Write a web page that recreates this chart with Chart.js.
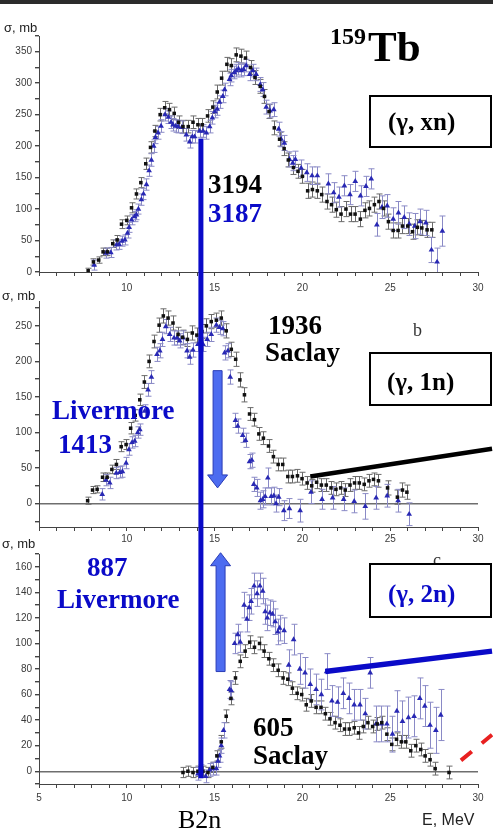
<!DOCTYPE html>
<html>
<head>
<meta charset="utf-8">
<script src="https://cdn.jsdelivr.net/npm/chart.js@4/dist/chart.umd.min.js"></script>
<style>
  body { margin: 0; background: #fff; }
  #page { position: relative; width: 493px; height: 832px; overflow: hidden; background: #fff; }
  #page canvas { position: absolute; left: 0; }
  .bar { position: absolute; left: 0; top: 0; width: 493px; height: 4px; background: #2b2b2b; }
  .t { position: absolute; white-space: nowrap; line-height: 1; }
  .sb { font: bold 27px "Liberation Serif", "Times New Roman", serif; color: #000; }
  .blue { color: #0a0ac8; }
  .ax { font: 13px "Liberation Sans", Arial, sans-serif; color: #222; }
  .box { position: absolute; left: 369px; width: 119px; border: 2px solid #000; background: #fff; }
  .box span { position: absolute; left: 17px; font: bold 25px "Liberation Serif", serif; line-height: 1; white-space: nowrap; }
</style>
</head>
<body>
<div id="page">
  <canvas id="c1" width="493" height="292" style="top:0"></canvas>
  <canvas id="c2" width="493" height="253" style="top:292px"></canvas>
  <canvas id="c3" width="493" height="287" style="top:545px"></canvas>
  <div class="bar"></div>

  <div class="t ax" style="left:4px;top:20px">σ, mb</div>
  <div class="t ax" style="left:2px;top:288px">σ, mb</div>
  <div class="t ax" style="left:2px;top:536px">σ, mb</div>
  <div class="t" style="left:422px;top:811px;font:16px 'Liberation Sans',Arial,sans-serif;color:#222">E, MeV</div>
  <div class="t" style="left:178px;top:805px;font:26px 'Liberation Serif',serif;color:#000">B2n</div>

  <div class="t" style="left:330px;top:23px;font:bold 24px 'Liberation Serif',serif">159</div>
  <div class="t" style="left:368px;top:22px;font:bold 43px 'Liberation Serif',serif">Tb</div>

  <div class="t sb" style="left:208px;top:169px">3194</div>
  <div class="t sb blue" style="left:208px;top:198px">3187</div>

  <div class="t sb" style="left:268px;top:310px">1936</div>
  <div class="t sb" style="left:265px;top:337px">Saclay</div>
  <div class="t" style="left:413px;top:320px;font:18px 'Liberation Serif',serif;color:#333">b</div>
  <div class="t sb blue" style="left:52px;top:395px">Livermore</div>
  <div class="t sb blue" style="left:58px;top:429px">1413</div>

  <div class="t" style="left:433px;top:550px;font:18px 'Liberation Serif',serif;color:#333">c</div>
  <div class="t sb blue" style="left:87px;top:552px">887</div>
  <div class="t sb blue" style="left:57px;top:584px">Livermore</div>
  <div class="t sb" style="left:253px;top:712px">605</div>
  <div class="t sb" style="left:253px;top:740px">Saclay</div>

  <div class="box" style="top:95px;height:49px"><span style="top:12px">(γ, xn)</span></div>
  <div class="box" style="top:352px;height:50px"><span style="top:15px;left:16px">(γ, 1n)</span></div>
  <div class="box" style="top:563px;height:51px"><span class="blue" style="top:16px">(γ, 2n)</span></div>
</div>

<script>
// (γ,xn) — Saclay
const xnSaclayE = [7.8,8.1,8.4,8.65,8.9,9.2,9.45,9.7,10.0,10.27,10.55,10.8,11.08,11.35,11.6,11.9,12.16,12.43,12.7,12.95,
  13.2,13.5,13.77,14.05,14.3,14.6,14.9,15.15,15.4,15.7,15.95,16.23,16.5,16.76,17.05,17.3,17.6,17.84,18.1,18.4,
  18.7,18.96,19.2,19.49,19.75,20.0,20.3,20.57,20.85,21.1,21.4,21.66,21.93,22.2,22.48,22.74,23.0,23.3,23.56,23.82,
  24.1,24.36,24.62,24.9,25.17,25.45,25.7,26.0,26.27,26.55,26.8,27.1,27.37];
const xnSaclayS = [2,16,19,32,32,45,51,76,82,102,124,142,172,198,224,250,261,258,252,238,
  231,231,238,234,234,248,262,286,308,330,328,345,343,340,325,309,295,279,255,229,
  211,196,178,166,160,152,129,131,129,123,112,107,99,92,100,92,92,84,98,101,
  107,112,101,80,66,66,73,73,64,71,70,67,67];
const xnSaclayErr = [4,5,5,6,6,6,7,7,7,8,8,8,9,9,9,10,10,10,10,10,
  10,10,10,10,10,10,10,11,11,11,11,11,11,11,11,11,11,11,11,11,
  11,11,11,11,11,11,12,12,12,12,12,12,12,12,12,12,12,12,12,12,
  12,12,12,12,12,12,12,12,12,12,12,12,12];

// (γ,xn) — Livermore
const xnLivE = [8.14,8.81,9.09,9.41,9.56,9.73,9.89,10.04,10.13,10.27,10.44,10.55,10.66,10.83,10.95,11.12,11.27,11.4,11.53,11.63,
  11.78,11.95,12.18,12.37,12.52,12.63,12.78,12.92,13.13,13.39,13.58,13.73,13.86,14.15,14.34,14.53,14.72,14.87,15.02,15.15,
  15.28,15.47,15.57,15.85,15.95,16.12,16.23,16.36,16.52,16.65,16.8,17.0,17.18,17.37,17.6,17.74,17.94,18.16,18.37,18.65,
  18.79,18.97,19.26,19.45,19.6,19.93,20.25,20.55,20.85,21.48,21.78,22.08,22.39,22.71,23.01,23.31,23.62,23.92,24.24,24.53,
  24.83,25.17,25.47,25.8,26.08,26.4,26.7,27.03,27.35,27.67,27.97];
const xnLivS = [11,30,31,43,44,49,51,62,71,83,88,91,100,115,124,139,161,178,200,214,
  221,232,250,246,238,234,232,231,230,218,207,215,215,224,224,221,231,245,255,259,
  270,279,290,306,312,317,320,323,320,322,328,314,320,314,298,290,262,256,258,227,
  211,205,179,173,179,165,158,153,153,140,126,119,137,123,144,121,136,148,75,103,
  105,84,94,87,76,73,80,78,35,16,65];
const xnLivErr = [8,8,8,8,8,8,8,8,8,8,8,8,8,9,9,9,9,10,10,10,
  10,10,10,10,10,10,10,10,10,10,10,10,10,10,10,10,10,10,10,10,
  10,10,10,10,10,10,10,10,10,10,10,10,10,10,11,11,11,11,11,11,
  12,12,12,12,13,13,14,14,14,16,16,16,16,16,16,16,16,16,18,18,
  18,18,18,18,18,20,20,20,20,22,24];

// (γ,1n) — Saclay
const n1SaclayE = [7.77,8.05,8.31,8.62,8.88,9.15,9.41,9.68,9.96,10.22,10.48,10.74,11.0,11.27,11.55,11.84,12.08,12.35,12.63,12.92,
  13.18,13.45,13.73,13.99,14.28,14.53,14.81,15.1,15.38,15.66,15.95,16.2,16.44,16.7,16.99,17.27,17.52,17.78,18.07,18.35,
  18.62,18.88,19.17,19.43,19.72,19.98,20.27,20.53,20.81,21.08,21.36,21.63,21.91,22.18,22.44,22.71,22.97,23.24,23.52,23.79,
  24.05,24.33,24.85,25.41,25.7,25.95];
const n1SaclayS = [4,19,20,37,37,48,55,80,83,106,124,146,171,200,228,251,264,261,254,238,
  234,231,240,237,242,250,256,258,261,243,217,203,174,153,126,118,98,92,81,66,
  55,55,38,38,39,35,29,25,30,26,26,22,20,22,19,26,29,29,27,32,
  34,32,22,9,19,16];
const n1SaclayErr = [5,5,5,6,6,6,7,7,7,8,8,8,9,9,9,10,10,10,10,10,
  10,10,10,10,10,10,10,10,10,10,10,10,10,10,9,9,9,9,9,9,
  9,9,9,9,9,9,9,9,9,9,9,9,9,9,9,9,9,9,9,9,
  9,9,10,10,10,10];

// (γ,1n) — Livermore
const n1LivE = [8.6,8.81,9.03,9.4,9.6,9.75,9.96,10.12,10.3,10.45,10.62,10.74,11.02,11.21,11.4,11.72,11.88,12.03,12.22,12.44,
  12.69,12.86,13.01,13.2,13.43,13.58,13.77,14.05,14.34,14.58,14.81,15.1,15.28,15.47,15.57,15.76,15.89,16.19,16.32,16.6,
  16.76,16.99,17.12,17.23,17.4,17.61,17.74,17.88,18.03,18.22,18.37,18.5,18.65,18.94,19.26,19.87,20.49,21.12,21.72,22.35,
  22.95,23.58,24.2,24.83,25.45,26.08];
const n1LivS = [13,33,29,43,44,45,57,76,86,88,100,104,130,160,178,210,215,231,249,238,
  233,233,229,233,215,206,216,224,224,231,238,251,248,246,212,215,178,117,109,96,
  89,59,61,27,22,4,6,10,36,10,11,0,9,-10,-7,-10,16,6,8,6,
  3,-4,8,11,4,-15];
const n1LivErr = [8,8,8,8,8,8,8,8,8,8,8,8,9,9,9,10,10,10,10,10,
  10,10,10,10,10,10,10,10,10,10,10,10,10,10,10,10,10,10,10,10,
  10,10,10,10,12,12,12,12,14,12,12,12,12,14,14,16,16,14,16,16,
  16,18,16,16,16,16];

// (γ,2n) — Saclay
const n2SaclayE = [13.2,13.48,13.77,14.05,14.33,14.62,14.9,15.13,15.38,15.66,15.93,16.19,16.46,16.74,17.0,17.27,17.56,17.82,18.09,18.35,
  18.62,18.9,19.17,19.43,19.7,19.96,20.22,20.5,20.78,21.06,21.31,21.57,21.86,22.14,22.4,22.67,22.95,23.2,23.47,23.73,
  24.0,24.26,24.52,24.81,25.09,25.36,25.64,25.89,26.17,26.46,26.74,26.99,27.27,27.56,28.35];
const n2SaclayS = [-1,0,-1,0,0,-1,3,12,23,43,57,73,86,94,101,97,100,94,88,83,
  79,73,72,65,61,60,52,55,50,50,45,41,38,36,33,33,34,30,35,38,
  35,37,38,29,21,25,23,23,16,20,17,12,9,2,-1];
const n2SaclayErr = [4,4,4,4,4,4,4,4,5,5,5,5,5,5,5,5,5,5,5,5,
  5,5,5,5,5,5,5,5,5,5,5,5,5,5,5,5,5,5,5,5,
  5,5,5,5,5,5,5,5,5,5,5,5,5,5,5];

// (γ,2n) — Livermore
const n2LivE = [14.05,14.25,14.49,14.72,14.9,15.1,15.19,15.28,15.38,15.51,15.85,15.95,16.14,16.32,16.46,16.68,16.84,16.97,17.08,17.25,
  17.42,17.58,17.74,17.88,18.0,18.15,18.3,18.45,18.6,18.7,18.96,19.22,19.5,19.85,20.15,20.45,20.78,21.08,21.38,21.68,
  22.0,22.33,22.65,22.95,23.28,23.58,23.86,24.19,24.5,24.81,25.13,25.38,25.7,26.04,26.36,26.69,26.97,27.27,27.6,27.88];
const n2LivS = [-2,0,-4,1,2,2,8,12,20,32,64,63,100,107,101,130,119,128,133,145,
  139,145,141,125,120,124,123,117,109,112,110,83,103,80,77,68,64,60,78,55,
  54,61,57,52,52,45,77,37,37,37,29,47,39,42,43,57,51,36,32,44];
const n2LivErr = [5,5,5,5,5,5,5,5,6,6,7,7,8,8,8,10,10,10,10,10,
  10,10,10,10,10,10,10,10,10,10,10,12,12,12,12,12,12,12,14,12,
  12,12,12,12,12,12,12,14,14,14,14,16,16,16,16,16,16,18,18,20];

// two-neutron separation threshold, MeV
const B2N = 14.22;

const BLUE = '#0a0ac8';

function series(E, S, err, lab) {
  const sac = lab === 'Saclay';
  return {
    label: lab,
    data: E.map((e, i) => ({ x: e, y: S[i] })),
    errors: err,
    errColor: sac ? '#6a6a6a' : '#8a8ac6',
    pointStyle: sac ? 'rect' : 'triangle',
    pointRadius: sac ? 2.5 : 3.3,
    backgroundColor: sac ? '#111' : '#2828b4',
    borderColor: sac ? '#111' : '#2828b4',
    borderWidth: 0
  };
}

// vertical error bars with small caps, under the markers
const errorBars = {
  id: 'errorBars',
  beforeDatasetsDraw(chart) {
    const ctx = chart.ctx, a = chart.chartArea, ys = chart.scales.y;
    ctx.save();
    ctx.beginPath();
    ctx.rect(a.left, a.top, a.right - a.left, a.bottom - a.top);
    ctx.clip();
    chart.data.datasets.forEach((ds, i) => {
      const pts = chart.getDatasetMeta(i).data;
      ctx.strokeStyle = ds.errColor;
      ctx.lineWidth = 1;
      ctx.beginPath();
      pts.forEach((p, j) => {
        const v = ds.data[j].y, e = ds.errors[j];
        const top = ys.getPixelForValue(v + e), bot = ys.getPixelForValue(v - e);
        const x = Math.round(p.x) + 0.5;
        ctx.moveTo(x, top); ctx.lineTo(x, bot);
        ctx.moveTo(x - 3, top); ctx.lineTo(x + 3, top);
        ctx.moveTo(x - 3, bot); ctx.lineTo(x + 3, bot);
      });
      ctx.stroke();
    });
    ctx.restore();
  }
};

function blockArrow(ctx, x, y0, y1) {
  const dir = Math.sign(y1 - y0), sw = 4.5, hw = 10, head = 13;
  const yb = y1 - dir * head;
  ctx.beginPath();
  ctx.moveTo(x - sw, y0);
  ctx.lineTo(x - sw, yb);
  ctx.lineTo(x - hw, yb);
  ctx.lineTo(x, y1);
  ctx.lineTo(x + hw, yb);
  ctx.lineTo(x + sw, yb);
  ctx.lineTo(x + sw, y0);
  ctx.closePath();
  ctx.fillStyle = '#4d6cf0';
  ctx.fill();
  ctx.strokeStyle = '#2b3db6';
  ctx.lineWidth = 1;
  ctx.stroke();
}

// B2n line, pointer lines and arrows, in data units of each panel
function marks(m) {
  return {
    id: 'marks',
    afterDatasetsDraw(chart) {
      const ctx = chart.ctx, xs = chart.scales.x, ys = chart.scales.y;
      const X = v => xs.getPixelForValue(v), Y = v => ys.getPixelForValue(v);
      ctx.save();
      (m.lines || []).forEach(l => {
        ctx.beginPath();
        ctx.strokeStyle = l.color;
        ctx.lineWidth = l.width;
        ctx.setLineDash(l.dash || []);
        ctx.moveTo(X(l.x1), Y(l.y1));
        ctx.lineTo(X(l.x2), Y(l.y2));
        ctx.stroke();
      });
      ctx.setLineDash([]);
      if (m.b2n) {
        const t = m.b2n.from == null ? 0 : Y(m.b2n.from);
        const b = m.b2n.to == null ? chart.height : Y(m.b2n.to);
        ctx.fillStyle = BLUE;
        ctx.fillRect(X(B2N) - 2.5, t, 5, b - t);
      }
      (m.arrows || []).forEach(a => blockArrow(ctx, X(a.x), Y(a.from), Y(a.to)));
      ctx.restore();
    }
  };
}

Chart.defaults.font.family = '"Liberation Sans", Arial, sans-serif';
Chart.defaults.font.size = 10;
Chart.defaults.color = '#3a3a3a';

function panel(id, sets, p) {
  return new Chart(document.getElementById(id), {
    type: 'scatter',
    data: { datasets: sets },
    options: {
      responsive: false,
      maintainAspectRatio: false,
      animation: false,
      layout: { padding: { top: p.top, right: 15, left: 0, bottom: 0 } },
      plugins: { legend: { display: false }, tooltip: { enabled: false } },
      scales: {
        x: {
          type: 'linear', min: 5, max: 30,
          afterFit: s => { s.height = p.xh; },
          border: { color: '#444', width: 1 },
          grid: { drawOnChartArea: false, tickLength: 4, tickColor: '#444' },
          ticks: {
            stepSize: 1, autoSkip: false, maxRotation: 0, includeBounds: false, padding: p.xpad,
            callback: v => (v % 5 === 0 && (p.five || v !== 5)) ? String(v) : ''
          }
        },
        y: {
          type: 'linear', min: p.ymin, max: p.ymax,
          afterFit: s => { s.width = 39; },
          border: { color: '#444', width: 1 },
          grid: {
            tickLength: 4, tickColor: '#444', lineWidth: 1.4,
            color: c => (p.zero && c.tick && c.tick.value === 0) ? '#6e6e6e' : 'rgba(0,0,0,0)'
          },
          ticks: {
            stepSize: p.minor, autoSkip: false, includeBounds: false, padding: 3,
            callback: v => v % p.major === 0 ? String(v) : ''
          }
        }
      }
    },
    plugins: [errorBars, marks(p.marks)]
  });
}

panel('c1', [
  series(xnSaclayE, xnSaclayS, xnSaclayErr, 'Saclay'),
  series(xnLivE, xnLivS, xnLivErr, 'Livermore')
], {
  top: 36, xh: 20, xpad: 6, ymin: 0, ymax: 375, minor: 25, major: 50, zero: false, five: false,
  marks: { b2n: { from: 212, to: null } }
});

panel('c2', [
  series(n1SaclayE, n1SaclayS, n1SaclayErr, 'Saclay'),
  series(n1LivE, n1LivS, n1LivErr, 'Livermore')
], {
  top: 4, xh: 18, xpad: 2, ymin: -33, ymax: 285, minor: 25, major: 50, zero: true, five: false,
  marks: {
    b2n: { from: null, to: null },
    lines: [{ x1: 20.45, y1: 38, x2: 30.8, y2: 77, width: 4.5, color: '#000' }],
    arrows: [{ x: 15.17, from: 187, to: 22 }]
  }
});

panel('c3', [
  series(n2SaclayE, n2SaclayS, n2SaclayErr, 'Saclay'),
  series(n2LivE, n2LivS, n2LivErr, 'Livermore')
], {
  top: 7, xh: 48, xpad: 4, ymin: -10, ymax: 170, minor: 10, major: 20, zero: true, five: true,
  marks: {
    b2n: { from: null, to: -5.5 },
    lines: [
      { x1: 21.3, y1: 78, x2: 30.8, y2: 94, width: 5.5, color: BLUE },
      { x1: 29.03, y1: 8.5, x2: 30.8, y2: 28.5, width: 4, color: '#e82020', dash: [14, 13] }
    ],
    arrows: [{ x: 15.34, from: 78, to: 171 }]
  }
});
</script>
</body>
</html>
